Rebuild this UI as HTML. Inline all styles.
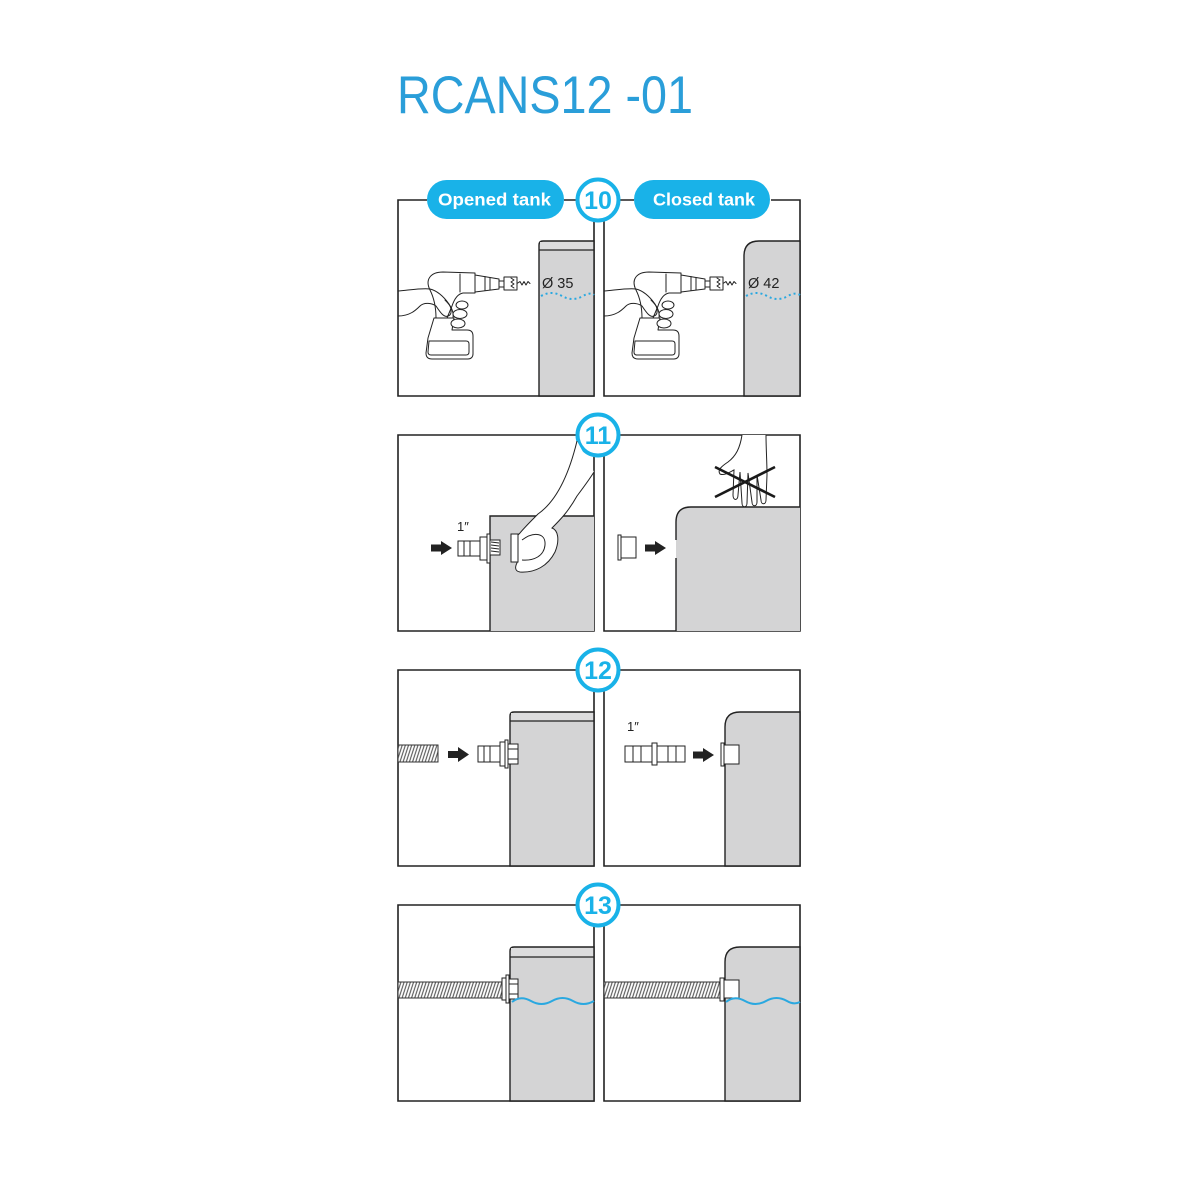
<!DOCTYPE html>
<html><head><meta charset="utf-8"><style>
html,body{margin:0;padding:0;background:#fff;}
svg{display:block;}
text{font-family:"Liberation Sans",Arial,sans-serif;}
</style></head><body>
<svg width="1200" height="1200" viewBox="0 0 1200 1200" xmlns="http://www.w3.org/2000/svg">
<defs>
<pattern id="hz" patternUnits="userSpaceOnUse" width="3" height="12" patternTransform="rotate(18)">
<rect width="3" height="12" fill="#fff"/>
<line x1="0.8" y1="0" x2="0.8" y2="12" stroke="#444" stroke-width="1"/>
</pattern>
<g id="drill" fill="#fff" stroke="#222" stroke-width="1" stroke-linejoin="round" stroke-linecap="round">
<!-- battery -->
<path d="M434,318 L428,338 L426,353 C426,357 428,359 432,359 L468,359 C471,359 473,357 473,354 L473,336 C473,332 471,330 467,330 L452,330 L454,318 Z"/>
<path d="M429,341 L466,341 C468,341 469,342 469,344 L469,352 C469,354 468,355 466,355 L431,355 C429,355 428,354 428,352 Z"/>
<!-- housing -->
<path d="M430,290 C425,280 430,272 443,272 L475,273 L475,293 L463,293 C457,294 454,300 452,306 L447,318 L436,318 C436,308 434,298 430,290 Z"/>
<line x1="460" y1="274" x2="460" y2="292"/>
<!-- chuck -->
<path d="M475,275 L499,279 L499,289 L475,292 Z"/>
<line x1="485" y1="276.5" x2="485" y2="290.5"/><line x1="490" y1="277.5" x2="490" y2="290"/>
<rect x="499" y="281" width="5" height="6"/>
<rect x="504" y="277" width="13" height="13"/>
<path d="M511,278 L514,280 L511,282 L514,284 L511,286 L514,288" fill="none"/>
<path d="M517,283.5 L520,281.5 L522,285 L524,281.5 L526,285 L528,281.5 L530,283.5" fill="none"/>
<!-- hand -->
<path d="M398,291 C410,290 422,288 430,289 C438,291 444,297 449,304 C452,309 452,315 448,316 C444,318 440,312 436,306 C432,303 424,302 420,306 C416,310 410,316 398,316" fill="none"/>
<ellipse cx="462" cy="305" rx="6" ry="4"/>
<ellipse cx="460" cy="314" rx="7" ry="4.5"/>
<ellipse cx="458" cy="323.5" rx="7" ry="4.5"/>
<path d="M445,300 C450,305 454,310 453,318" fill="none"/>
</g>
</defs>

<!-- Title -->
<text x="397" y="113" font-size="53" fill="#2a9ed9" textLength="296" lengthAdjust="spacingAndGlyphs">RCANS12 -01</text>

<g fill="none" stroke="#222" stroke-width="1.6">
<!-- Row 10 frames -->
<path d="M427,200 L398,200 L398,396 L594,396 L594,221"/>
<path d="M564,200 L576,200 M620,200 L634,200"/>
<path d="M604,221 L604,396 L800,396 L800,200 L771,200"/>
<!-- Row 11 -->
<path d="M576,435 L398,435 L398,631 L594,631 L594,456"/>
<path d="M604,456 L604,631 L800,631 L800,435 L620,435"/>
<!-- Row 12 -->
<path d="M576,670 L398,670 L398,866 L594,866 L594,691"/>
<path d="M604,691 L604,866 L800,866 L800,670 L620,670"/>
<!-- Row 13 -->
<path d="M576,905 L398,905 L398,1101 L594,1101 L594,926"/>
<path d="M604,926 L604,1101 L800,1101 L800,905 L620,905"/>
</g>

<!-- Row 10 tanks -->
<path d="M539,396 L539,245 Q539,241 543,241 L594,241 L594,396 Z" fill="#d4d4d5" stroke="#222" stroke-width="1.4"/>
<rect x="540" y="242" width="53" height="8" fill="#dcdcdd"/>
<line x1="539" y1="250" x2="594" y2="250" stroke="#222" stroke-width="1.2"/>
<path d="M744,396 L744,256 Q744,241 759,241 L800,241 L800,396 Z" fill="#d4d4d5" stroke="#222" stroke-width="1.4"/>
<text x="542" y="288" font-size="14.5" fill="#222">Ø 35</text>
<text x="748" y="288" font-size="14.5" fill="#222">Ø 42</text>
<path d="M541,296 C548,292 555,292 562,296 C569,300 576,300 583,296 C588,293 592,293 594,295" fill="none" stroke="#2aa8e0" stroke-width="2" stroke-dasharray="2 3"/>
<path d="M746,296 C753,292 760,292 767,296 C774,300 781,300 788,296 C793,293 797,293 800,295" fill="none" stroke="#2aa8e0" stroke-width="2" stroke-dasharray="2 3"/>
<use href="#drill"/>
<use href="#drill" transform="translate(206,0)"/>

<!-- Row 10 header pills -->
<rect x="427" y="180" width="137" height="39" rx="19.5" fill="#19b2e8"/>
<text x="438" y="205.5" font-size="17.5" font-weight="bold" fill="#fff" textLength="113" lengthAdjust="spacingAndGlyphs">Opened tank</text>
<rect x="634" y="180" width="136" height="39" rx="19.5" fill="#19b2e8"/>
<text x="653" y="205.5" font-size="17.5" font-weight="bold" fill="#fff" textLength="102" lengthAdjust="spacingAndGlyphs">Closed tank</text>

<!-- Circles -->
<g fill="#fff" stroke="#19b2e8" stroke-width="4">
<circle cx="598" cy="200" r="20.5"/>
<circle cx="598" cy="435" r="20.5"/>
<circle cx="598" cy="670" r="20.5"/>
<circle cx="598" cy="905" r="20.5"/>
</g>
<g font-size="25" font-weight="bold" fill="#19b2e8" text-anchor="middle">
<text x="598" y="209">10</text>
<text x="598" y="444">11</text>
<text x="598" y="679">12</text>
<text x="598" y="914">13</text>
</g>

<!-- Row 11 left -->
<rect x="490" y="516" width="104" height="115" fill="#d4d4d5"/>
<path d="M490,631 L490,516 L594,516" fill="none" stroke="#222" stroke-width="1.4"/>
<path d="M431,544.5 L441,544.5 L441,541 L452,548 L441,555 L441,551.5 L431,551.5 Z" fill="#222"/>
<text x="457" y="531" font-size="13" fill="#222">1″</text>
<g fill="#fff" stroke="#222" stroke-width="1">
<rect x="458" y="541" width="22" height="15"/>
<line x1="464" y1="541" x2="464" y2="556"/><line x1="470" y1="541" x2="470" y2="556"/>
<rect x="480" y="537" width="7" height="23"/>
<rect x="487" y="534" width="3" height="29"/>
<rect x="490" y="540" width="10" height="15"/>
<path d="M491,542 L499,543 M491,545 L499,546 M491,548 L499,549 M491,551 L499,552" fill="none"/>
<path d="M577,441 C570,470 558,500 538,514 C530,522 524,528 520,533 L518,535 L518,561 C515,566 514,571 520,572 C535,573 548,566 555,552 C560,540 558,530 552,528 C560,520 568,512 577,496 C583,488 589,480 594,472"/>
<rect x="511" y="534" width="7" height="28"/>
<path d="M522,540 C534,531 546,533 545,545 C544,556 534,561 522,560" fill="none"/>
</g>

<!-- Row 11 right -->
<path d="M676,631 L676,522 Q676,507 691,507 L800,507 L800,631 Z" fill="#d4d4d5"/>
<path d="M676,631 L676,558 M676,540 L676,522 Q676,507 691,507 L800,507" fill="none" stroke="#222" stroke-width="1.4"/>
<g fill="#fff" stroke="#222" stroke-width="1">
<rect x="621" y="537" width="15" height="21"/>
<rect x="618" y="535" width="3" height="25"/>
<path d="M742,435 C740,448 736,456 728,462 C722,466 717,470 720,474 C724,476 730,472 734,470 L733,495 C733,501 738,501 738,495 L740,472 L742,503 C742,508 747,508 747,503 L748,473 L752,502 C752,507 757,507 757,502 L757,475 L761,500 C761,505 766,505 766,500 L767,475 C767,462 766,448 766,435"/>
</g>
<path d="M645,544.5 L655,544.5 L655,541 L666,548 L655,555 L655,551.5 L645,551.5 Z" fill="#222"/>
<path d="M715,467 L775,497 M715,497 L775,467" stroke="#1a1a1a" stroke-width="2.6" fill="none"/>

<!-- Row 12 left -->
<path d="M510,866 L510,716 Q510,712 514,712 L594,712 L594,866 Z" fill="#d4d4d5" stroke="#222" stroke-width="1.4"/>
<rect x="511" y="713" width="82" height="8" fill="#dcdcdd"/>
<line x1="510" y1="721" x2="594" y2="721" stroke="#222" stroke-width="1.2"/>
<rect x="398" y="745" width="40" height="17" fill="url(#hz)" stroke="#333" stroke-width="1"/>
<path d="M448,751 L458,751 L458,747 L469,754.5 L458,762 L458,758 L448,758 Z" fill="#222"/>
<g fill="#fff" stroke="#222" stroke-width="1">
<rect x="478" y="746" width="22" height="16"/>
<line x1="484" y1="746" x2="484" y2="762"/><line x1="490" y1="746" x2="490" y2="762"/>
<rect x="500" y="742" width="5" height="24"/>
<rect x="505" y="740" width="3" height="28"/>
<rect x="508" y="744" width="10" height="20"/>
<line x1="508" y1="749" x2="518" y2="749"/><line x1="508" y1="759" x2="518" y2="759"/>
</g>

<!-- Row 12 right -->
<path d="M725,866 L725,727 Q725,712 740,712 L800,712 L800,866 Z" fill="#d4d4d5" stroke="#222" stroke-width="1.4"/>
<text x="627" y="731" font-size="13" fill="#222">1″</text>
<g fill="#fff" stroke="#222" stroke-width="1">
<rect x="625" y="746" width="60" height="16"/>
<line x1="633" y1="746" x2="633" y2="762"/><line x1="641" y1="746" x2="641" y2="762"/>
<line x1="668" y1="746" x2="668" y2="762"/><line x1="676" y1="746" x2="676" y2="762"/>
<rect x="652" y="743" width="5" height="22"/>
<rect x="724" y="745" width="15" height="19"/>
<rect x="721" y="743" width="3" height="23"/>
</g>
<path d="M693,751.5 L703,751.5 L703,748 L714,755 L703,762 L703,758.5 L693,758.5 Z" fill="#222"/>

<!-- Row 13 left -->
<path d="M510,1101 L510,951 Q510,947 514,947 L594,947 L594,1101 Z" fill="#d4d4d5" stroke="#222" stroke-width="1.4"/>
<rect x="511" y="948" width="82" height="9" fill="#dcdcdd"/>
<line x1="510" y1="957" x2="594" y2="957" stroke="#222" stroke-width="1.2"/>
<rect x="398" y="982" width="104" height="16" fill="url(#hz)" stroke="#333" stroke-width="1"/>
<g fill="#fff" stroke="#222" stroke-width="1">
<rect x="502" y="978" width="4" height="22"/>
<rect x="506" y="975" width="3" height="28"/>
<rect x="509" y="979" width="9" height="20"/>
<line x1="509" y1="984" x2="518" y2="984"/><line x1="509" y1="994" x2="518" y2="994"/>
</g>
<path d="M512,1002 C518,997 524,997 531,1001 C538,1005 545,1005 552,1001 C559,997 566,997 573,1001 C580,1005 587,1005 594,1001" fill="none" stroke="#2aa8e0" stroke-width="2"/>

<!-- Row 13 right -->
<path d="M725,1101 L725,962 Q725,947 740,947 L800,947 L800,1101 Z" fill="#d4d4d5" stroke="#222" stroke-width="1.4"/>
<rect x="604" y="982" width="116" height="16" fill="url(#hz)" stroke="#333" stroke-width="1"/>
<g fill="#fff" stroke="#222" stroke-width="1">
<rect x="720" y="978" width="4" height="23"/>
<rect x="724" y="980" width="15" height="18"/>
</g>
<path d="M726,1002 C732,997 738,997 745,1001 C752,1005 759,1005 766,1001 C773,997 780,997 787,1001 C792,1004 796,1004 800,1002" fill="none" stroke="#2aa8e0" stroke-width="2"/>
</svg>
</body></html>
